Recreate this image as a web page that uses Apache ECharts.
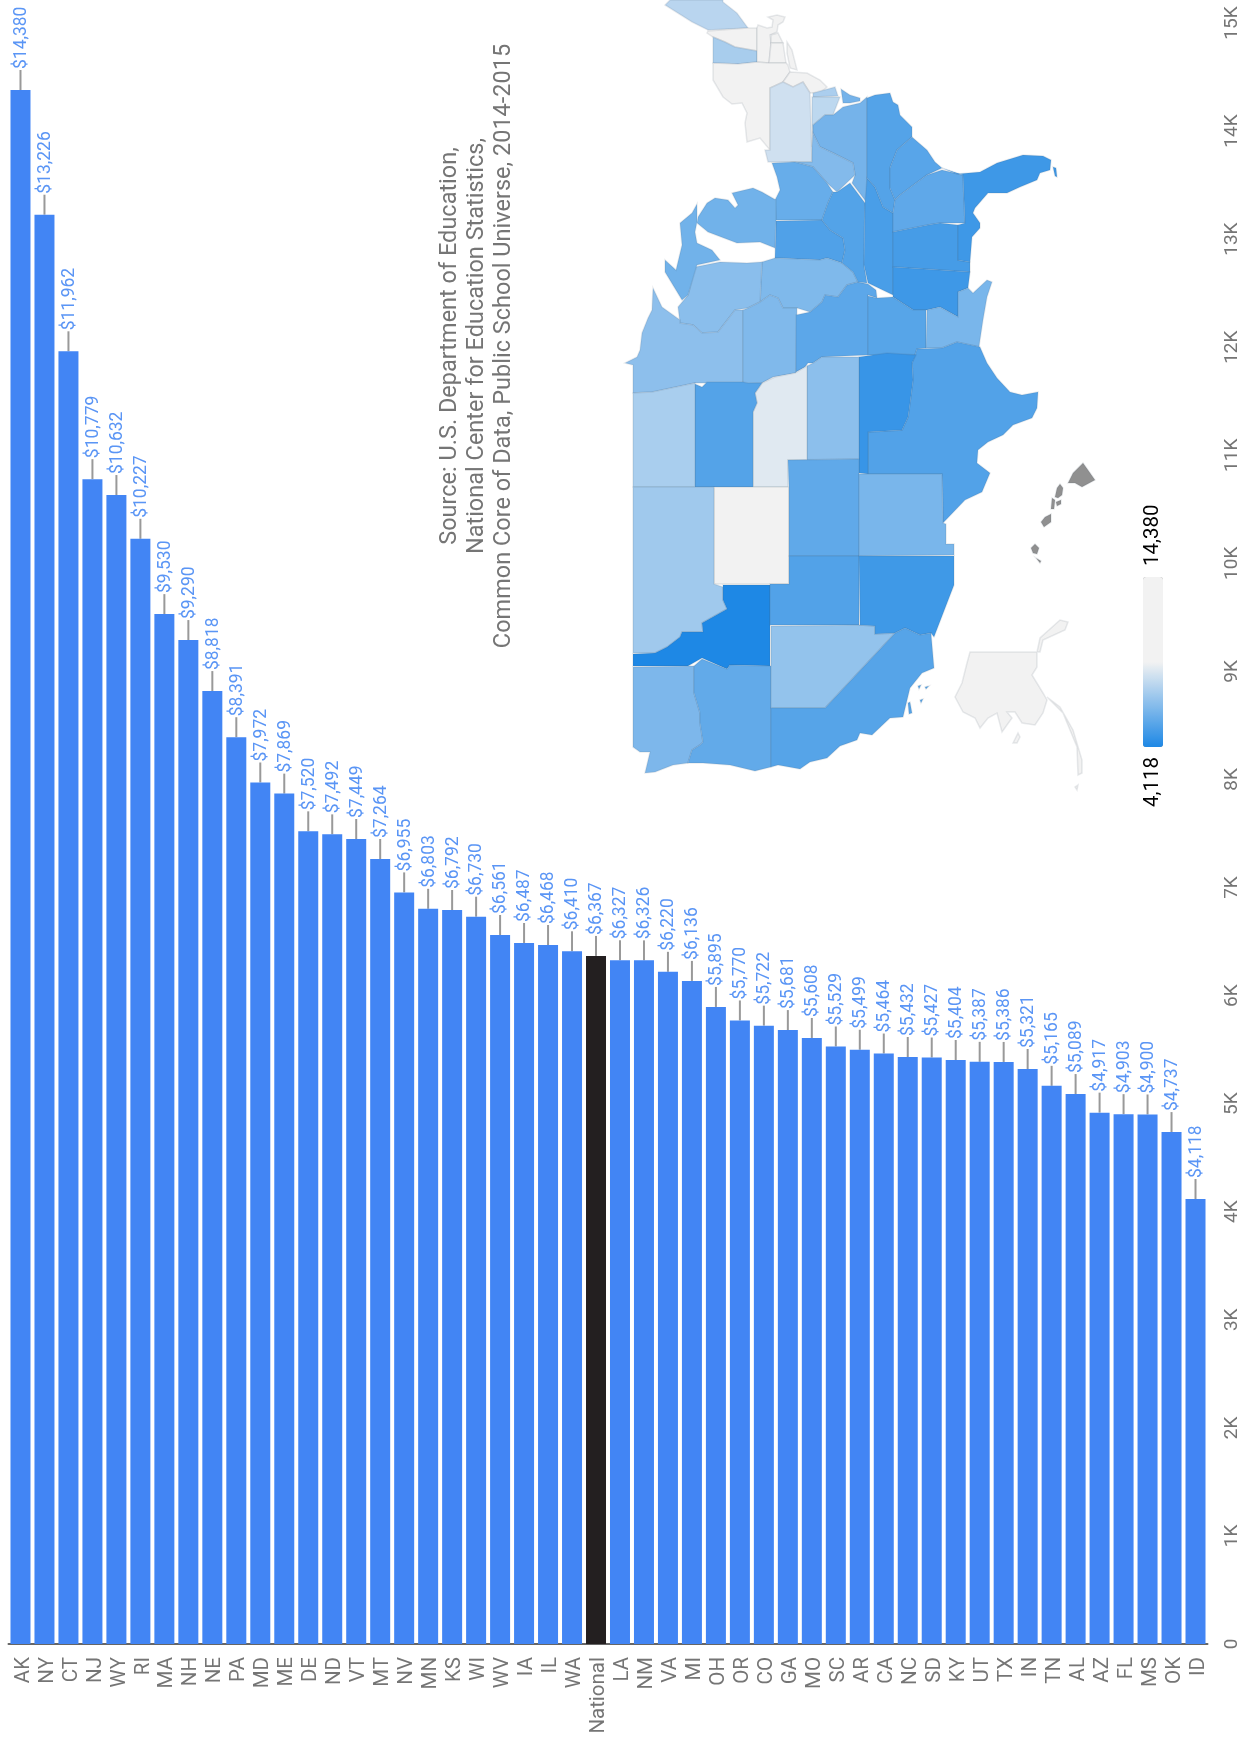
<!DOCTYPE html>
<html><head><meta charset="utf-8">
<style>html,body{margin:0;padding:0;background:#fff}#c{width:1252px;height:1740px}</style>
<script src="https://cdn.jsdelivr.net/npm/echarts@6/dist/echarts.min.js"></script>
</head><body><div id="c"></div>
<script>
const categories = ['AK','NY','CT','NJ','WY','RI','MA','NH','NE','PA','MD','ME','DE','ND','VT','MT','NV','MN','KS','WI','WV','IA','IL','WA','National','LA','NM','VA','MI','OH','OR','CO','GA','MO','SC','AR','CA','NC','SD','KY','UT','TX','IN','TN','AL','AZ','FL','MS','OK','ID'];
const spending = [14380,13226,11962,10779,10632,10227,9530,9290,8818,8391,7972,7869,7520,7492,7449,7264,6955,6803,6792,6730,6561,6487,6468,6410,6367,6327,6326,6220,6136,5895,5770,5722,5681,5608,5529,5499,5464,5432,5427,5404,5387,5386,5321,5165,5089,4917,4903,4900,4737,4118];
const sourceLines = ['Source: U.S. Department of Education,','National Center for Education Statistics,','Common Core of Data, Public School Universe, 2014-2015'];
const legendLabels = ['14,380','4,118'];

// Simplified state outlines (rotated base map), in map units.
const outlines = {
ME:[[[665,5],[692,22],[708,30],[748,28],[737,13],[723,2],[723,0],[670,0]]],
NH:[[[708,31],[748,28],[757,28],[757,51],[735,47],[725,42],[713,37],[707,33]]],
VT:[[[713,37],[725,42],[735,47],[757,51],[757,62],[738,64],[713,63]]],
MA:[[[757,28],[758,25],[767,28],[772,27],[773,20],[768,17],[777,15],[785,17],[783,22],[778,25],[777,32],[770,35],[771,43],[769,63],[757,62]]],
RI:[[[771,35],[778,33],[783,43],[771,43]]],
CT:[[[771,43],[783,43],[786,63],[769,63]]],
NY:[[[713,63],[738,64],[757,62],[769,63],[786,63],[788,65],[790,72],[783,82],[770,88],[770,150],[760,138],[747,142],[745,123],[747,113],[742,103],[732,104],[723,97],[713,80]],[[787,42],[792,50],[797,70],[790,68],[787,53]]],
NJ:[[[783,82],[790,72],[807,73],[820,80],[827,87],[820,93],[810,93],[803,82],[793,87]]],
PA:[[[770,88],[783,82],[793,87],[803,82],[810,93],[812,162],[768,162],[765,150],[770,150]]],
DE:[[[813,93],[835,87],[838,96],[813,97]]],
MD:[[[812,97],[840,97],[833,115],[825,115],[813,125],[812,147]]],
VA:[[[813,125],[825,115],[833,115],[843,107],[860,103],[867,97],[867,203],[852,183],[855,175],[853,163],[833,153],[820,147],[813,133]],[[841,89],[850,95],[860,98],[860,101],[850,103],[843,103]]],
WV:[[[812,147],[813,133],[820,147],[833,153],[853,163],[855,175],[837,192],[827,183],[813,167],[795,162],[812,162]]],
OH:[[[772,163],[795,162],[813,167],[827,183],[833,192],[828,203],[822,220],[776,220],[775,200],[780,190],[777,177]]],
IN:[[[776,221],[822,220],[830,230],[843,238],[845,250],[842,263],[827,258],[820,260],[775,258]]],
IL:[[[762,262],[775,258],[820,260],[827,258],[842,263],[853,272],[858,282],[847,285],[838,297],[825,295],[822,302],[810,312],[797,308],[783,308],[778,298],[770,295],[760,302]]],
WI:[[[688,295],[695,267],[720,262],[747,263],[762,262],[760,302],[748,308],[735,310],[718,332],[702,333],[693,325],[680,323],[678,307]]],
MI:[[[680,223],[692,213],[697,204],[697,222],[695,232],[697,243],[712,250],[720,260],[697,265],[688,295],[682,300],[665,272],[665,260],[676,270],[682,245]],[[698,217],[707,203],[715,198],[728,200],[735,208],[738,205],[732,193],[753,188],[762,192],[776,200],[776,221],[775,248],[760,242],[737,243],[708,232],[697,223]]],
MN:[[[625,363],[637,357],[640,350],[642,333],[648,318],[652,310],[653,288],[662,307],[680,320],[680,323],[693,325],[702,333],[718,332],[735,310],[743,310],[743,383],[695,383],[653,392],[633,393],[633,365]]],
IA:[[[743,310],[748,308],[760,302],[770,295],[778,298],[783,308],[797,308],[796,373],[773,377],[762,383],[745,384],[743,383]]],
MO:[[[796,315],[810,312],[822,302],[825,295],[838,297],[847,285],[858,282],[868,284],[876,290],[877,298],[868,295],[868,355],[822,357],[813,363],[808,363],[805,367],[796,372]]],
KY:[[[850,183],[865,203],[864,265],[867,283],[858,282],[853,272],[842,263],[845,250],[843,238],[830,230],[822,220],[828,203],[833,192],[837,192]]],
TN:[[[867,178],[875,187],[883,207],[893,213],[893,295],[868,283],[864,265],[865,203]]],
NC:[[[867,98],[875,95],[890,93],[893,102],[898,105],[900,115],[912,127],[912,137],[897,150],[890,168],[890,188],[895,200],[893,213],[883,207],[875,187],[867,178]]],
SC:[[[912,137],[927,150],[935,162],[942,168],[927,175],[900,195],[895,200],[890,188],[890,168],[897,150]]],
GA:[[[895,200],[900,195],[927,175],[942,170],[963,175],[965,223],[940,223],[928,225],[893,232],[893,213]]],
AL:[[[893,232],[928,225],[940,223],[958,225],[958,260],[970,262],[970,272],[893,267]]],
MS:[[[893,267],[970,272],[968,288],[958,292],[958,317],[940,307],[927,310],[913,310],[893,297]]],
FL:[[[942,168],[957,174],[980,172],[997,163],[1023,155],[1043,156],[1051,160],[1050,170],[1040,173],[1037,180],[1020,187],[1007,193],[988,193],[975,208],[973,213],[980,223],[980,228],[972,237],[970,262],[958,260],[958,225],[965,223],[963,175]],[[1053,167],[1056,168],[1057,177],[1055,176]]],
AR:[[[877,298],[893,297],[913,310],[926,310],[926,348],[917,349],[915,355],[868,355],[868,296]]],
LA:[[[927,310],[940,307],[958,317],[958,292],[968,288],[973,293],[987,280],[992,282],[987,297],[983,320],[980,340],[979,347],[957,342],[942,348],[926,348]]],
TX:[[[917,349],[942,348],[957,342],[980,347],[987,363],[997,378],[1010,392],[1022,395],[1038,392],[1037,408],[1032,418],[1013,425],[1003,435],[988,442],[978,450],[977,463],[990,473],[982,492],[965,500],[943,523],[942,474],[868,474],[868,432],[902,430],[908,417],[910,403],[913,380],[912,363]]],
OK:[[[859,357],[887,353],[916,355],[912,363],[913,380],[910,403],[908,417],[902,430],[868,432],[868,474],[859,473]]],
KS:[[[807,366],[813,363],[822,357],[859,357],[859,459],[807,460]]],
NE:[[[762,383],[775,377],[795,373],[807,366],[807,460],[788,460],[788,487],[753,487],[753,412],[757,403],[755,393]]],
SD:[[[695,384],[702,387],[707,382],[743,382],[748,383],[762,383],[755,393],[757,403],[753,412],[753,487],[695,487]]],
ND:[[[633,393],[652,392],[695,383],[695,487],[633,487]]],
WY:[[[714,487],[789,487],[789,584],[714,584]]],
MT:[[[633,487],[714,487],[714,584],[723,587],[723,600],[727,609],[702,623],[703,632],[682,632],[680,637],[667,647],[655,653],[633,653]]],
ID:[[[723,585],[770,585],[770,666],[730,665],[727,669],[702,658],[688,666],[633,666],[633,654],[655,653],[667,647],[680,637],[682,632],[703,632],[702,623],[727,609],[723,600]]],
WA:[[[633,667],[694,666],[694,693],[700,713],[700,723],[703,742],[700,745],[692,750],[688,763],[673,765],[655,772],[645,773],[650,752],[640,752],[633,747]]],
OR:[[[694,666],[702,659],[727,669],[730,665],[771,666],[771,767],[755,771],[730,765],[703,763],[688,763],[692,750],[700,745],[703,742],[700,723],[700,713],[694,693]]],
CO:[[[788,460],[859,459],[859,556],[789,556],[789,487]]],
UT:[[[789,556],[859,556],[859,625],[770,625],[770,584],[789,584]]],
NV:[[[771,626],[860,625],[875,626],[875,634],[895,633],[825,708],[771,708]]],
NM:[[[859,474],[942,474],[943,523],[946,524],[946,544],[954,544],[954,555],[859,556]]],
AZ:[[[859,556],[954,556],[954,585],[934,637],[931,633],[920,635],[905,628],[895,633],[875,634],[875,626],[860,625]]],
CA:[[[771,708],[825,708],[895,633],[905,628],[920,635],[931,633],[934,668],[922,673],[910,688],[903,717],[890,718],[872,735],[860,733],[857,740],[840,746],[827,758],[810,762],[800,769],[778,765],[771,767]],[[918,686],[921,685],[919,689]],[[925,687],[929,686],[926,689]],[[908,703],[910,702],[912,713],[909,714]],[[920,700],[923,699],[921,703]]],
HI:[[[1068,483],[1073,473],[1083,463],[1088,470],[1095,480],[1082,487],[1075,483]],[[1055,497],[1057,488],[1060,484],[1063,488],[1062,495],[1058,498]],[[1041,522],[1045,517],[1051,514],[1051,522],[1044,527]],[[1031,548],[1035,544],[1039,548],[1037,554],[1033,553]],[[1051,509],[1052,498],[1055,500],[1054,509]],[[1056,502],[1061,500],[1061,504],[1057,506]],[[1036,558],[1041,561],[1040,563]]],
AK:[[[970,652],[1037,652],[1037,667],[1032,675],[1043,693],[1047,700],[1043,713],[1035,725],[1022,723],[1015,712],[1007,712],[1012,718],[1002,732],[997,713],[988,718],[980,728],[975,718],[963,712],[955,697],[962,683],[967,663]],[[1037,652],[1040,638],[1060,620],[1068,622],[1065,630],[1043,640],[1040,652]],[[1047,697],[1060,707],[1073,730],[1082,760],[1082,773],[1078,775],[1077,747],[1063,713]],[[1013,743],[1018,733],[1020,737],[1017,743]],[[1075,787],[1078,785],[1077,790]]]
};

const geoJson = {type:'FeatureCollection',features:Object.keys(outlines).map(k=>({
  type:'Feature',properties:{name:k},geometry:{type:'MultiPolygon',coordinates:outlines[k].map(r=>[r.concat([r[0]])])}
}))};
echarts.registerMap('states',geoJson);

let xs=[],ys=[];
Object.values(outlines).forEach(p=>p.forEach(r=>r.forEach(q=>{xs.push(q[0]);ys.push(q[1]);})));
const bx=Math.min(...xs),by=Math.min(...ys),bw=Math.max(...xs)-bx,bh=Math.max(...ys)-by;

const mapData = categories.map((c,i)=>({name:c,value:spending[i]})).filter(d=>d.name!=='National');
const lo=Math.min(...spending),hi=Math.max(...spending);
const FONT='Roboto';
const chart=echarts.init(document.getElementById('c'),null,{renderer:'canvas'});
chart.setOption({
  animation:false,
  backgroundColor:'#fff',
  textStyle:{fontFamily:FONT},
  grid:{left:8.5,top:23,width:1199,height:1621,containLabel:false},
  xAxis:{type:'category',data:categories,
    axisLine:{lineStyle:{color:'#666',width:2}},axisTick:{show:false},
    axisLabel:{interval:0,rotate:90,margin:13,fontSize:20.5,color:'#757575',fontFamily:FONT,verticalAlign:'top',lineHeight:6}},
  yAxis:{type:'value',position:'right',min:0,max:15000,interval:1000,splitLine:{show:false},axisLine:{show:false},axisTick:{show:false},
    axisLabel:{rotate:90,margin:15,fontSize:19,color:'#757575',fontFamily:FONT,formatter:v=>v===0?'0':(v/1000)+'K'}},
  visualMap:{type:'continuous',seriesIndex:2,min:lo,max:hi,left:1143,top:577,padding:0,itemWidth:20,itemHeight:170,text:null,calculable:false,
    inRange:{color:['#1e88e5','#f2f2f2','#f2f2f2']},outOfRange:{color:'#909090'}},
  series:[
    {type:'bar',data:spending,barWidth:20,
      itemStyle:{color:p=>categories[p.dataIndex]==='National'?'#231f20':'#4285f4'},
      label:{show:true,position:'top',rotate:90,distance:21,align:'left',verticalAlign:'middle',fontSize:17.5,color:'#5a95f5',fontFamily:FONT,offset:[0,1],
        formatter:p=>'$'+p.value.toLocaleString('en-US')}},
    {type:'custom',data:spending.map((v,i)=>[i,v]),encode:{x:0,y:1},silent:true,
      renderItem:(params,api)=>{
        const pt=api.coord([api.value(0),api.value(1)]);
        return {type:'line',shape:{x1:pt[0],y1:pt[1],x2:pt[0],y2:pt[1]-20},style:{stroke:'#999',lineWidth:2}};
      }},
    {type:'map',map:'states',data:mapData,roam:false,
      projection:{project:p=>p,unproject:p=>p},
      left:bx,top:by,width:bw,height:bh,
      label:{show:false},emphasis:{disabled:true},select:{disabled:true},
      itemStyle:{areaColor:'#909090',borderColor:'rgba(70,90,110,0.12)',borderWidth:1.5}}
  ],
  graphic:[
    {type:'text',x:477,y:346,rotation:Math.PI/2,style:{text:sourceLines.join('\n'),align:'center',verticalAlign:'middle',lineHeight:27,fontSize:23.5,fontFamily:FONT,fill:'#757575'}},
    {type:'text',x:1153,y:566,rotation:Math.PI/2,style:{text:legendLabels[0],align:'left',verticalAlign:'middle',fontSize:20.5,fontFamily:FONT,fill:'#000'}},
    {type:'text',x:1153,y:807,rotation:Math.PI/2,style:{text:legendLabels[1],align:'left',verticalAlign:'middle',fontSize:20.5,fontFamily:FONT,fill:'#000'}}
  ]
});
</script></body></html>
